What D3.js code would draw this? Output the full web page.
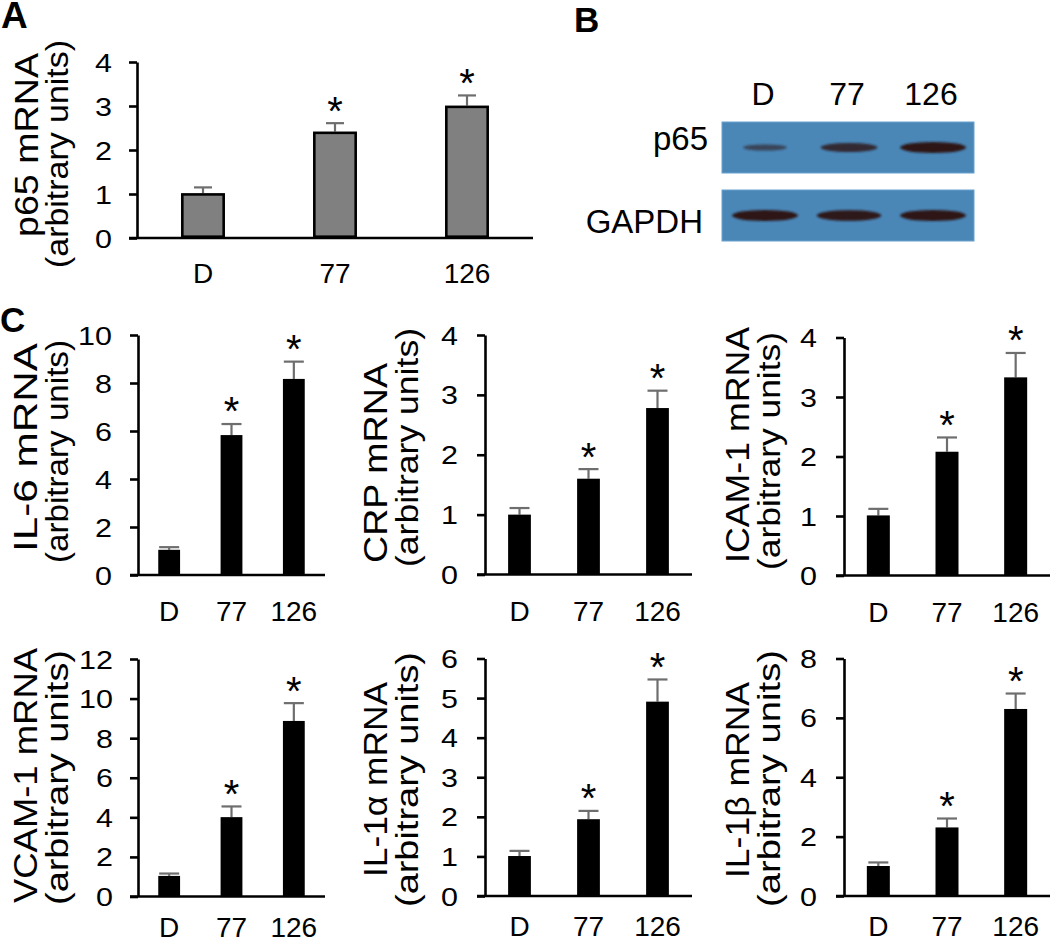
<!DOCTYPE html>
<html><head><meta charset="utf-8">
<script src="https://cdn.jsdelivr.net/npm/d3@7"></script>
<style>
html,body{margin:0;padding:0;background:#fff;}
text{font-family:"Liberation Sans",Arial,Helvetica,sans-serif;fill:#000;}
</style></head>
<body>
<script>
// ---------- DATA ----------
const groups = ["D", "77", "126"];
const significant = [false, true, true];

const p65Values = [1.02, 2.42, 3.01];
const p65Errors = [0.13, 0.19, 0.23];
const p65Ticks = [0, 1, 2, 3, 4];

const il6Values = [1.05, 5.83, 8.17];
const il6Errors = [0.11, 0.46, 0.72];
const il6Ticks = [0, 2, 4, 6, 8, 10];

const crpValues = [1.0, 1.60, 2.78];
const crpErrors = [0.11, 0.16, 0.29];
const crpTicks = [0, 1, 2, 3, 4];

const icamValues = [1.01, 2.08, 3.33];
const icamErrors = [0.11, 0.24, 0.41];
const icamTicks = [0, 1, 2, 3, 4];

const vcamValues = [1.04, 4.01, 8.87];
const vcamErrors = [0.12, 0.54, 0.90];
const vcamTicks = [0, 2, 4, 6, 8, 10, 12];

const il1aValues = [1.01, 1.94, 4.91];
const il1aErrors = [0.13, 0.21, 0.56];
const il1aTicks = [0, 1, 2, 3, 4, 5, 6];

const il1bValues = [1.01, 2.31, 6.30];
const il1bErrors = [0.12, 0.30, 0.52];
const il1bTicks = [0, 2, 4, 6, 8];

const blotLanes = ["D", "77", "126"];
const blotRows = ["p65", "GAPDH"];
const p65Intensity = [0.4, 0.75, 1.0];
const gapdhIntensity = [1.0, 0.96, 1.0];

// ---------- LAYOUT ----------
const W = 1050, H = 942;
const svg = d3.select("body").append("svg").attr("width", W).attr("height", H);

const panels = [
  {label1:"p65 mRNA", values:p65Values, errors:p65Errors, ticks:p65Ticks, yMax:4,
   x0:137, xEnd:533, y0:238, yTop:62, pad:0.667, fill:"#808080", stroke:"#000", capW:18, xlab:45,
   tickRight:112, l1x:38, l1:[53,237], l2x:68, l2:[40,268]},
  {label1:"IL-6 mRNA", values:il6Values, errors:il6Errors, ticks:il6Ticks, yMax:10,
   x0:138, xEnd:325, y0:575, yTop:335, pad:0.65, fill:"#000", stroke:"none", capW:20, xlab:46,
   tickRight:112, l1x:37, l1:[343,552], l2x:68, l2:[340,563]},
  {label1:"CRP mRNA", values:crpValues, errors:crpErrors, ticks:crpTicks, yMax:4,
   x0:485, xEnd:692, y0:574.5, yTop:335, pad:0.67, fill:"#000", stroke:"none", capW:20, xlab:46,
   tickRight:458, l1x:387, l1:[363,563], l2x:418, l2:[328,567]},
  {label1:"ICAM-1 mRNA", values:icamValues, errors:icamErrors, ticks:icamTicks, yMax:4,
   x0:844, xEnd:1050, y0:575.5, yTop:337.5, pad:0.665, fill:"#000", stroke:"none", capW:20, xlab:46,
   tickRight:817, l1x:749, l1:[327,563], l2x:780, l2:[332,570]},
  {label1:"VCAM-1 mRNA", values:vcamValues, errors:vcamErrors, ticks:vcamTicks, yMax:12,
   x0:138, xEnd:325, y0:896.5, yTop:659, pad:0.65, fill:"#000", stroke:"none", capW:20, xlab:40,
   tickRight:113, l1x:37, l1:[648,903], l2x:68, l2:[650,905]},
  {label1:"IL-1α mRNA", values:il1aValues, errors:il1aErrors, ticks:il1aTicks, yMax:6,
   x0:485, xEnd:692, y0:896, yTop:658.5, pad:0.67, fill:"#000", stroke:"none", capW:20, xlab:40,
   tickRight:458, l1x:387, l1:[682,877], l2x:418, l2:[652,907]},
  {label1:"IL-1β mRNA", values:il1bValues, errors:il1bErrors, ticks:il1bTicks, yMax:8,
   x0:844, xEnd:1050, y0:896, yTop:658.5, pad:0.665, fill:"#000", stroke:"none", capW:20, xlab:40,
   tickRight:817, l1x:749, l1:[682,878], l2x:780, l2:[650,907]}
];

const TICK_FS = 25, TICK_SX = 1.22, XLAB_FS = 28, YLAB1_FS = 33, YLAB2_FS = 32, STAR_FS = 40;
const AXIS_W = 2.6, ERR_COLOR = "#6e6e6e";

function drawPanel(p) {
  const g = svg.append("g");
  const y = d3.scaleLinear().domain([0, p.yMax]).range([p.y0, p.yTop]);
  const x = d3.scaleBand().domain(groups).range([p.x0, p.xEnd])
              .paddingInner(p.pad).paddingOuter(p.pad / 2);
  const data = groups.map((k, i) => ({k, v:p.values[i], e:p.errors[i], s:significant[i]}));

  // error bars (upper only)
  const eb = g.selectAll("g.err").data(data).join("g").attr("class","err");
  eb.append("line")
    .attr("x1", d => x(d.k) + x.bandwidth()/2).attr("x2", d => x(d.k) + x.bandwidth()/2)
    .attr("y1", d => y(d.v)).attr("y2", d => y(d.v + d.e))
    .attr("stroke", ERR_COLOR).attr("stroke-width", 2.2);
  eb.append("line")
    .attr("x1", d => x(d.k) + x.bandwidth()/2 - p.capW/2)
    .attr("x2", d => x(d.k) + x.bandwidth()/2 + p.capW/2)
    .attr("y1", d => y(d.v + d.e)).attr("y2", d => y(d.v + d.e))
    .attr("stroke", ERR_COLOR).attr("stroke-width", 2.2);

  // bars
  const sw = p.stroke === "none" ? 0 : 2.6;
  g.selectAll("rect.bar").data(data).join("rect").attr("class","bar")
    .attr("x", d => x(d.k) + sw/2).attr("y", d => y(d.v) + sw/2)
    .attr("width", x.bandwidth() - sw).attr("height", d => y(0) - y(d.v) - sw)
    .attr("fill", p.fill).attr("stroke", p.stroke).attr("stroke-width", sw);

  // significance stars
  g.selectAll("text.star").data(data.filter(d => d.s)).join("text").attr("class","star")
    .attr("x", d => x(d.k) + x.bandwidth()/2)
    .attr("y", d => y(d.v + d.e) - 22 + 0.585 * STAR_FS)
    .attr("text-anchor","middle").attr("font-size", STAR_FS).text("*");

  // y axis
  const ya = g.append("g").attr("transform", `translate(${p.x0},0)`)
    .call(d3.axisLeft(y).tickValues(p.ticks).tickSize(8).tickSizeOuter(0).tickFormat(d3.format("d")));
  ya.select(".domain").attr("stroke","#000").attr("stroke-width", AXIS_W);
  ya.selectAll(".tick line").attr("stroke","#000").attr("stroke-width", AXIS_W);
  ya.selectAll(".tick text")
    .attr("x", -(p.x0 - p.tickRight) / TICK_SX).attr("dy","0.36em")
    .attr("transform", `scale(${TICK_SX},1)`)
    .attr("font-size", TICK_FS).attr("font-family", null).attr("fill","#000");

  // x axis line (extends to tick length on left)
  g.append("line").attr("x1", p.x0 - 8).attr("x2", p.xEnd)
    .attr("y1", p.y0).attr("y2", p.y0).attr("stroke","#000").attr("stroke-width", AXIS_W);
  const xa = g.append("g").attr("transform", `translate(0,${p.y0})`)
    .call(d3.axisBottom(x).tickSize(0));
  xa.select(".domain").remove();
  xa.selectAll(".tick text").attr("y", p.xlab).attr("dy", 0)
    .attr("font-size", XLAB_FS).attr("font-family", null).attr("fill","#000");

  // y-axis title (two lines, rotated)
  const lines = [[p.label1, p.l1x, p.l1, YLAB1_FS], ["(arbitrary units)", p.l2x, p.l2, YLAB2_FS]];
  lines.forEach(([t, bx, r, fs]) => {
    g.append("text")
      .attr("transform", `translate(${bx},${(r[0] + r[1]) / 2}) rotate(-90)`)
      .attr("text-anchor","middle").attr("font-size", fs)
      .attr("textLength", r[1] - r[0]).attr("lengthAdjust","spacingAndGlyphs")
      .text(t);
  });
}
panels.forEach(drawPanel);

// ---------- WESTERN BLOT (panel B) ----------
const defs = svg.append("defs");
defs.append("filter").attr("id","blur").attr("x","-30%").attr("y","-100%").attr("width","160%").attr("height","300%")
  .append("feGaussianBlur").attr("stdDeviation", 1.3);

const bx = d3.scaleBand().domain(blotLanes).range([722, 974]);
const by = d3.scaleBand().domain(blotRows).range([122, 241]).paddingInner(0.25);
const bandW = d3.scaleLinear().domain([0, 1]).range([28, 66]);
const bandH = d3.scaleLinear().domain([0, 1]).range([3, 11]);
const bandOp = d3.scaleLinear().domain([0, 1]).range([0.3, 1]);
const rowIntensity = {p65: p65Intensity, GAPDH: gapdhIntensity};

blotRows.forEach(r => {
  svg.append("rect").attr("x", 722).attr("y", by(r)).attr("width", 252).attr("height", by.bandwidth())
    .attr("fill", "#4a86b6").attr("stroke", "#6aa2cf").attr("stroke-width", 1);
  const cy = by(r) + by.bandwidth() / 2;
  svg.selectAll(null).data(blotLanes.map((l, i) => ({l, v: rowIntensity[r][i]}))).join("ellipse")
    .attr("cx", d => bx(d.l) + bx.bandwidth() / 2 + 1)
    .attr("cy", cy)
    .attr("rx", d => bandW(d.v) / 2).attr("ry", d => bandH(d.v) / 2)
    .attr("fill", "#2e1516").attr("opacity", d => bandOp(d.v))
    .attr("filter", "url(#blur)");
  svg.append("text").attr("x", r === "p65" ? 708 : 703).attr("y", cy + (r === "p65" ? 2 : 17))
    .attr("text-anchor","end").attr("font-size", 33).text(r);
});
svg.selectAll("text.lane").data(blotLanes).join("text").attr("class","lane")
  .attr("x", d => bx(d) + bx.bandwidth() / 2 - 1).attr("y", 105)
  .attr("text-anchor","middle").attr("font-size", 32).text(d => d);

// ---------- PANEL LETTERS ----------
svg.append("text").attr("x", 1).attr("y", 28).attr("font-size", 37).attr("font-weight","bold").text("A");
svg.append("text").attr("x", 574).attr("y", 32).attr("font-size", 35).attr("font-weight","bold").text("B");
svg.append("text").attr("x", 0).attr("y", 332).attr("font-size", 35).attr("font-weight","bold").text("C");
</script>
</body></html>
